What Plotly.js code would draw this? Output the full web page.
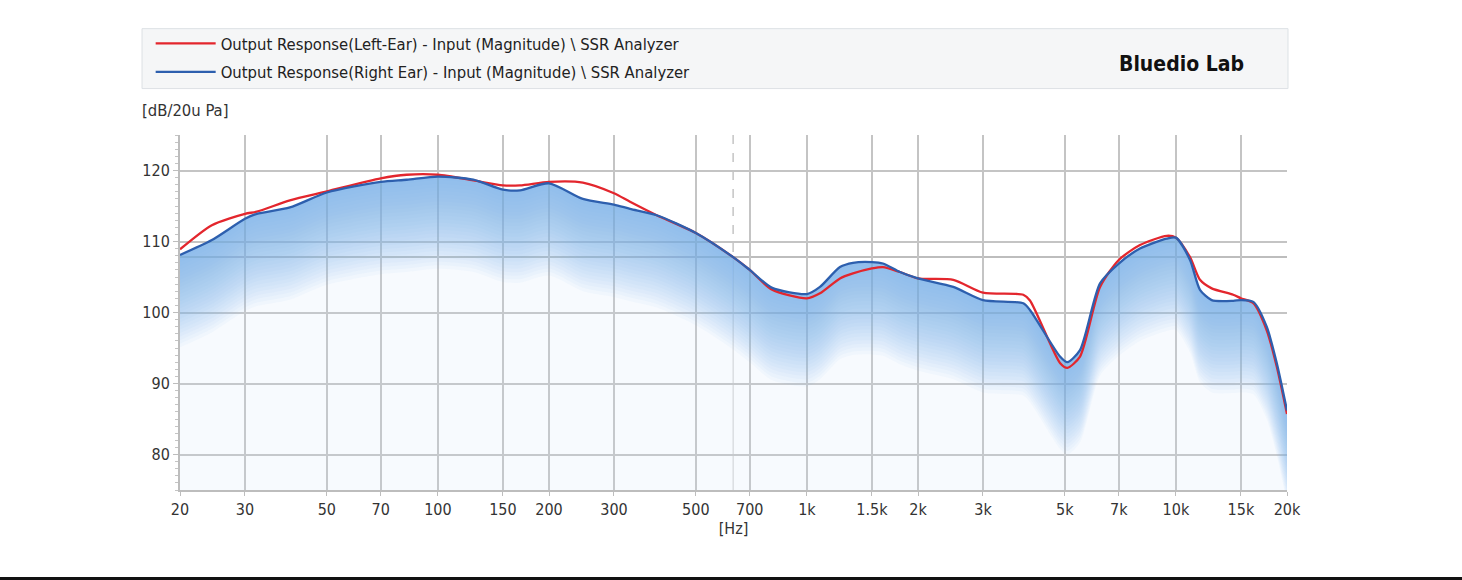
<!DOCTYPE html>
<html>
<head>
<meta charset="utf-8">
<script src="https://cdn.plot.ly/plotly-3.0.1.min.js"></script>
<style>
  html, body { margin: 0; padding: 0; background: #ffffff; overflow: hidden; }
  #chart { width: 1462px; height: 580px; }
  #bar { position: fixed; left: 0; bottom: 0; width: 1462px; height: 3px; background: #111; }
</style>
</head>
<body>
<div id="chart"></div>
<div id="bar"></div>
<script>
// ---- data ----
const freqHz = [20, 24.4, 30, 32.3, 39.7, 50, 70, 82.3, 100, 124.7, 150, 166.9, 200, 247, 300, 331.6, 391.6, 500, 631, 700, 802.6, 1000, 1085, 1229, 1333, 1500, 1607, 1787, 2000, 2493, 3000, 3858, 4022, 4851, 5080, 5496, 6228, 7000, 7990, 9441, 10000, 10920, 11620, 12500, 14300, 15000, 16210, 17620, 18760, 20000];
const leftEar = [108.9, 112.3, 113.9, 114.2, 115.8, 117.05, 118.9, 119.4, 119.4, 118.6, 117.9, 117.9, 118.4, 118.3, 116.8, 115.6, 113.7, 111.2, 107.8, 106.0, 103.25, 102.0, 102.7, 104.8, 105.5, 106.2, 106.4, 105.7, 104.8, 104.6, 102.8, 102.5, 101.7, 92.9, 92.2, 93.8, 103.6, 107.4, 109.5, 110.8, 110.55, 107.8, 104.6, 103.4, 102.5, 102.0, 101.3, 97.5, 92.4, 85.7];
const rightEar = [108.1, 110.2, 113.2, 113.9, 114.8, 116.9, 118.4, 118.7, 119.15, 118.7, 117.3, 117.2, 118.2, 116.0, 115.2, 114.6, 113.7, 111.2, 107.8, 106.0, 103.5, 102.6, 103.6, 106.4, 107.0, 107.1, 106.9, 105.7, 104.8, 103.6, 101.75, 101.3, 100.35, 93.8, 93.0, 94.7, 104.1, 106.9, 109.0, 110.4, 110.55, 107.4, 103.2, 101.75, 101.65, 101.75, 101.5, 98.0, 92.9, 86.2];
const seriesNames = [
  'Output Response(Left-Ear) - Input (Magnitude) \\ SSR Analyzer',
  'Output Response(Right Ear) - Input (Magnitude) \\ SSR Analyzer'
];
const tickVals = [20, 30, 50, 70, 100, 150, 200, 300, 500, 700, 1000, 1500, 2000, 3000, 5000, 7000, 10000, 15000, 20000];
const tickText = ['20', '30', '50', '70', '100', '150', '200', '300', '500', '700', '1k', '1.5k', '2k', '3k', '5k', '7k', '10k', '15k', '20k'];
const yTicks = [80, 90, 100, 110, 120];
const cursorFreq = 631;
const cursorLevel = 107.8;
const brand = 'Bluedio Lab';

// ---- chart ----
const FONT = '"DejaVu Sans Condensed", "DejaVu Sans", sans-serif';
const lineShape = { shape: 'spline', smoothing: 0.7 };
const hidden = { color: 'rgba(0,0,0,0)', width: 0.5 };

// soft glow under the right-ear curve: stacked translucent bands hanging from the curve (styling only)
const GLOW_DEPTH_DB = 13, GLOW_BANDS = 26, GLOW_ALPHA = 0.05;
const traces = [];
traces.push({ x: freqHz, y: rightEar, type: 'scatter', mode: 'lines', fill: 'tozeroy',
  fillcolor: 'rgba(205,225,246,0.16)', showlegend: false, hoverinfo: 'skip',
  line: Object.assign({}, hidden, lineShape) });
for (let i = 1; i <= GLOW_BANDS; i++) {
  const d = GLOW_DEPTH_DB * i / GLOW_BANDS;
  traces.push({ x: freqHz, y: rightEar, type: 'scatter', mode: 'lines',
    showlegend: false, hoverinfo: 'skip', line: Object.assign({}, hidden, lineShape) });
  traces.push({ x: freqHz, y: rightEar.map(v => v - d), type: 'scatter', mode: 'lines',
    fill: 'tonexty', fillcolor: 'rgba(110,172,234,' + GLOW_ALPHA + ')',
    showlegend: false, hoverinfo: 'skip', line: Object.assign({}, hidden, lineShape) });
}

traces.push({
  x: freqHz, y: leftEar, type: 'scatter', mode: 'lines', name: seriesNames[0], legendgroup: 'L',
  line: Object.assign({ color: '#e3262d', width: 2.3 }, lineShape)
});
traces.push({
  x: freqHz, y: rightEar, type: 'scatter', mode: 'lines', name: seriesNames[1], legendgroup: 'R',
  line: Object.assign({ color: '#2d5fae', width: 2.3 }, lineShape)
});

const layout = {
  width: 1462, height: 580,
  margin: { l: 180, r: 175, t: 134.5, b: 90 },
  paper_bgcolor: '#ffffff', plot_bgcolor: 'rgba(0,0,0,0)',
  font: { family: FONT, size: 16, color: '#333333' },
  showlegend: true,
  legend: {
    x: -0.0265, y: 1.3064, xanchor: 'left', yanchor: 'top',
    bgcolor: 'rgba(0,0,0,0)', borderwidth: 0,
    font: { family: FONT, size: 16.5, color: '#222' },
    itemwidth: 60, tracegroupgap: 4, traceorder: 'grouped'
  },
  xaxis: {
    type: 'log', range: [Math.log10(20), Math.log10(20000)],
    tickmode: 'array', tickvals: tickVals, ticktext: tickText,
    showgrid: true, gridcolor: '#c4c4c4', gridwidth: 2,
    showline: true, linecolor: '#bdbdbd', linewidth: 2, mirror: false,
    ticks: 'outside', ticklen: 4, tickcolor: '#bdbdbd',
    zeroline: false,
    tickfont: { family: FONT, size: 16, color: '#333' },
    title: { text: '[Hz]', standoff: 2, font: { family: FONT, size: 16, color: '#333' } }
  },
  yaxis: {
    range: [75, 125],
    tickmode: 'array', tickvals: yTicks,
    showgrid: true, gridcolor: '#c4c4c4', gridwidth: 2,
    showline: true, linecolor: '#bdbdbd', linewidth: 2,
    ticks: 'outside', ticklen: 5, tickcolor: '#bdbdbd',
    minor: { dtick: 1, ticks: 'outside', ticklen: 3, tickcolor: '#c4c4c4', showgrid: false },
    zeroline: false,
    tickfont: { family: FONT, size: 16, color: '#333' }
  },
  shapes: [
    { type: 'rect', xref: 'paper', yref: 'paper', layer: 'below',
      x0: -0.0343, x1: 1.0009, y0: (490 - 88) / 355.5, y1: (490 - 28) / 355.5,
      fillcolor: '#f5f6f7', line: { color: '#dde1e5', width: 1 } },
    { type: 'line', xref: 'paper', yref: 'y', layer: 'below',
      x0: 0, x1: 1, y0: cursorLevel, y1: cursorLevel,
      line: { color: '#bdbdbd', width: 2 } },
    { type: 'line', xref: 'x', yref: 'paper', layer: 'below',
      x0: cursorFreq, x1: cursorFreq, y0: 1, y1: (cursorLevel - 75) / 50,
      line: { color: '#c4c4c4', width: 1.5, dash: 'dash' } },
    { type: 'line', xref: 'x', yref: 'paper', layer: 'below',
      x0: cursorFreq, x1: cursorFreq, y0: 0, y1: (cursorLevel - 75) / 50,
      line: { color: '#cccccc', width: 1 } }
  ],
  annotations: [
    { text: '[dB/20u Pa]', xref: 'paper', yref: 'paper', x: -0.0343, y: (490 - 110) / 355.5,
      xanchor: 'left', yanchor: 'middle', showarrow: false, xshift: -2,
      font: { family: FONT, size: 16.5, color: '#333' } },
    { text: '<b>' + brand + '</b>', xref: 'paper', yref: 'paper', x: (1181 - 180) / 1107, y: (490 - 63) / 355.5,
      xanchor: 'center', yanchor: 'middle', showarrow: false,
      font: { family: FONT, size: 21, color: '#111' } }
  ]
};

Plotly.newPlot('chart', traces, layout, { displayModeBar: false, staticPlot: true });
</script>
</body>
</html>
